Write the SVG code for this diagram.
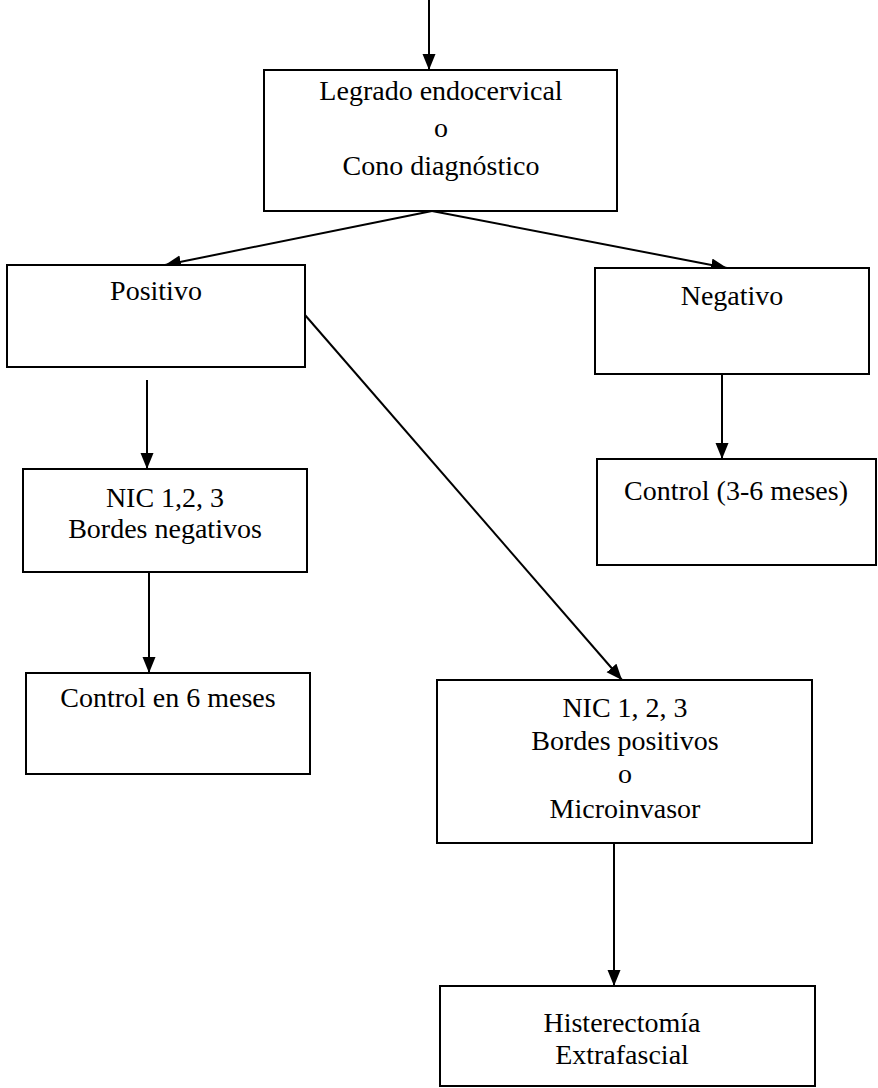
<svg xmlns="http://www.w3.org/2000/svg" width="878" height="1088" viewBox="0 0 878 1088">
  <defs>
    <marker id="arrow" markerUnits="userSpaceOnUse" markerWidth="18" markerHeight="14" refX="16" refY="6.5" orient="auto">
      <path d="M0,0 L16,6.5 L0,13 Z" fill="#000"/>
    </marker>
    <style>
      .box { fill: #fff; stroke: #000; stroke-width: 2; }
      .lbl { font-family: "Liberation Serif", "Times New Roman", serif; font-size: 28px; fill: #000; text-anchor: middle; }
      .edge { stroke: #000; stroke-width: 2; fill: none; marker-end: url(#arrow); }
    </style>
  </defs>
  <rect width="878" height="1088" fill="#fff"/>

  <g id="connectors">
    <line class="edge" x1="429" y1="0" x2="429" y2="70"/>
    <line class="edge" x1="432" y1="211" x2="165" y2="265"/>
    <line class="edge" x1="432" y1="211" x2="727" y2="268"/>
    <line class="edge" x1="147" y1="380" x2="147" y2="469"/>
    <line class="edge" x1="149" y1="572" x2="149" y2="673"/>
    <line class="edge" x1="722" y1="374" x2="722" y2="459"/>
    <line class="edge" x1="305" y1="315" x2="622" y2="680"/>
    <line class="edge" x1="614" y1="843" x2="614" y2="986"/>
  </g>

  <g id="legrado">
    <rect class="box" x="264" y="70" width="353" height="141"/>
    <text class="lbl" x="441" y="100">Legrado endocervical</text>
    <text class="lbl" x="441" y="137">o</text>
    <text class="lbl" x="441" y="175">Cono diagnóstico</text>
  </g>

  <g id="positivo">
    <rect class="box" x="7" y="265" width="298" height="102"/>
    <text class="lbl" x="156" y="300">Positivo</text>
  </g>

  <g id="negativo">
    <rect class="box" x="595" y="268" width="274" height="106"/>
    <text class="lbl" x="732" y="305">Negativo</text>
  </g>

  <g id="nic-bordes-negativos">
    <rect class="box" x="23" y="469" width="284" height="103"/>
    <text class="lbl" x="165" y="507">NIC 1,2, 3</text>
    <text class="lbl" x="165" y="538">Bordes negativos</text>
  </g>

  <g id="control-3-6">
    <rect class="box" x="597" y="459" width="279" height="106"/>
    <text class="lbl" x="736" y="500">Control (3-6 meses)</text>
  </g>

  <g id="control-6">
    <rect class="box" x="26" y="673" width="284" height="101"/>
    <text class="lbl" x="168" y="707">Control en 6 meses</text>
  </g>

  <g id="nic-bordes-positivos">
    <rect class="box" x="437" y="680" width="375" height="163"/>
    <text class="lbl" x="625" y="717">NIC 1, 2, 3</text>
    <text class="lbl" x="625" y="750">Bordes positivos</text>
    <text class="lbl" x="625" y="783">o</text>
    <text class="lbl" x="625" y="818">Microinvasor</text>
  </g>

  <g id="histerectomia">
    <rect class="box" x="440" y="986" width="375" height="100"/>
    <text class="lbl" x="622" y="1032">Histerectomía</text>
    <text class="lbl" x="622" y="1064">Extrafascial</text>
  </g>
</svg>
